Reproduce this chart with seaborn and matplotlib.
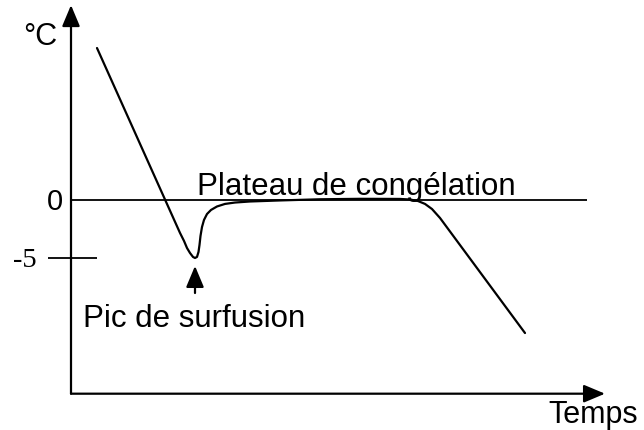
import matplotlib
matplotlib.use("Agg")
import matplotlib.pyplot as plt
import seaborn as sns

sns.set_style("white")
plt.rcParams['font.family'] = ['Liberation Sans', 'DejaVu Sans']
plt.rcParams['text.color'] = 'black'

# temperature curve (time in arbitrary units, temperature in degC)
temps = [2.7, 11.0, 11.4, 11.7, 12.0, 12.3, 12.5, 12.7, 12.85, 12.95, 13.05,
         13.2, 13.4, 13.7, 14.1, 14.7, 15.5, 16.5, 18.0, 21.0, 25.0, 29.0,
         33.0, 34.0, 34.8, 35.5, 36.2, 37.0, 45.5]
temperature = [13.1, -2.84, -3.53, -4.14, -4.57, -4.91, -5.0, -4.91, -4.48,
               -3.88, -3.10, -2.33, -1.72, -1.21, -0.86, -0.56, -0.34, -0.22,
               -0.13, -0.04, 0.06, 0.10, 0.09, 0.04, -0.09, -0.34, -0.78,
               -1.55, -11.47]

ytick_vals = [0, -5]
ytick_labels = ["0", "-5"]
pic_time, pic_temp = 12.5, -5.0

x_min, x_max = -7.0, 57.4
y_min, y_max = -19.83, 17.24
x_axis_end = 53.5
y_axis_top = 16.8
y_axis_bottom = -16.7
zero_line_end = 51.7

fig = plt.figure(figsize=(6.44, 4.3), dpi=100)
ax = fig.add_axes([0, 0, 1, 1])
ax.set_xlim(x_min, x_max)
ax.set_ylim(y_min, y_max)
ax.axis("off")

sns.lineplot(x=temps, y=temperature, sort=False, estimator=None,
             color="black", linewidth=1.6, ax=ax)

arrow = dict(arrowstyle="-|>,head_length=1.0,head_width=0.42", color="black",
             lw=1.6, shrinkA=0, shrinkB=0, mutation_scale=13)

# axes with arrows
ax.annotate("", xy=(0.1, y_axis_top), xytext=(0.1, y_axis_bottom), arrowprops=arrow)
ax.annotate("", xy=(x_axis_end, y_axis_bottom), xytext=(0.1, y_axis_bottom), arrowprops=arrow)

# freezing plateau line and -5 tick
ax.hlines(ytick_vals[0], 0.1, zero_line_end, color="black", lw=1.3)
ax.hlines(ytick_vals[1], -2.2, 2.7, color="black", lw=1.3)

ax.text(-0.7, ytick_vals[0] - 0.2, ytick_labels[0], fontsize=21, ha="right", va="center")
ax.text(-3.3, ytick_vals[1] - 0.26, ytick_labels[1], fontsize=20.5, ha="right", va="center",
        family=["Liberation Serif", "DejaVu Serif"])

ax.text(-3.0, 13.36, "°C", fontsize=22, ha="center", va="baseline")
ax.text(47.8, -19.2, "Temps", fontsize=22, ha="left", va="baseline")
ax.text(12.7, 0.43, "Plateau de congélation", fontsize=22.5, ha="left", va="baseline")

# supercooling peak
ax.annotate("", xy=(pic_time, pic_temp - 0.69), xytext=(pic_time, pic_temp - 3.02),
            arrowprops=arrow)
ax.text(1.3, -10.95, "Pic de surfusion", fontsize=22.5, ha="left", va="baseline")

fig.savefig("out.png", dpi=100)
